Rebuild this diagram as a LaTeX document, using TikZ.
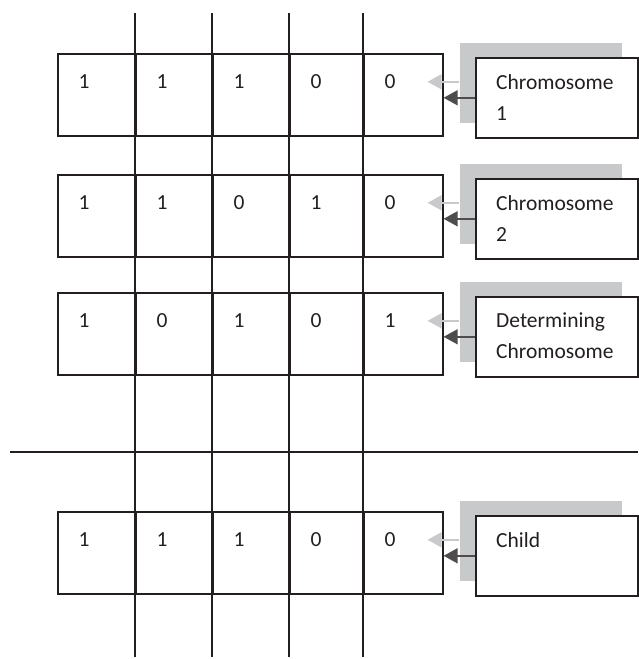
\documentclass[tikz,border=0pt]{standalone}
\usepackage{fontspec}
\setmainfont{Carlito}
\usetikzlibrary{positioning,arrows.meta}
\definecolor{inkdark}{HTML}{231F20}
\definecolor{shadegray}{HTML}{C8C9CB}

\tikzset{
  gridline/.style={draw=inkdark, line width=1.6pt},
  cell/.style={draw=inkdark, line width=1.6pt, minimum height=82pt, inner sep=0pt, anchor=north west},
  bit/.style={font=\fontsize{21.5}{26}\selectfont, text=inkdark, inner sep=0pt},
  tagbox/.style={draw=inkdark, fill=white, line width=1.6pt, minimum width=162pt, minimum height=80pt, inner sep=0pt, anchor=north west},
  tagtext/.style={font=\fontsize{21.5}{31}\selectfont, text=inkdark, align=left, inner sep=0pt, anchor=north west},
  callout/.style={draw=inkdark!80, line width=1.6pt, -{Triangle[length=14pt,width=15pt]}},
  ghost/.style={draw=shadegray, line width=1.6pt, -{Triangle[length=14pt,width=15pt]}}
}

\begin{document}
\begin{tikzpicture}[x=1pt, y=-1pt]
      \useasboundingbox (0,0) rectangle (638,659);
      \foreach \x in {135,212,289,363} { \draw[gridline] (\x,13) -- (\x,657); }
      \draw[gridline] (10,452) -- (638,452);
      \foreach \r/\top/\bits/\txt in {1/53/{1,1,1,0,0}/{Chromosome\\1},
                                      2/174/{1,1,0,1,0}/{Chromosome\\2},
                                      3/292/{1,0,1,0,1}/{Determining\\Chromosome},
                                      4/511/{1,1,1,0,0}/{Child}} {
        \foreach \xl/\xr [count=\c] in {57/135,135/212,212/289,289/363,363/442} {
          \pgfmathtruncatemacro\d{{\bits}[\c-1]}
          \node[cell, minimum width=\xr-\xl] (c\r\c) at (\xl,\top) {};
          \node[bit] (b\r\c) at ([xshift=27pt,yshift=-29pt]c\r\c.north west) {\d};
        }
        \node[tagbox, draw=none, fill=shadegray] (shade\r) at (459,\top-11) {};
        \node[tagbox] (tag\r) at (475,\top+4) {};
        \node[tagtext] (tagtxt\r) at ([xshift=21pt,yshift=-17pt]tag\r.north west) {\txt};
        \draw[ghost] ([yshift=16pt]tag\r.west -| shade\r.west) -- ([xshift=-16pt,yshift=16pt]tag\r.west -| c\r5.east);
        \draw[callout] (tag\r.west) -- (tag\r.west -| c\r5.east);
      }
\end{tikzpicture}
\end{document}
